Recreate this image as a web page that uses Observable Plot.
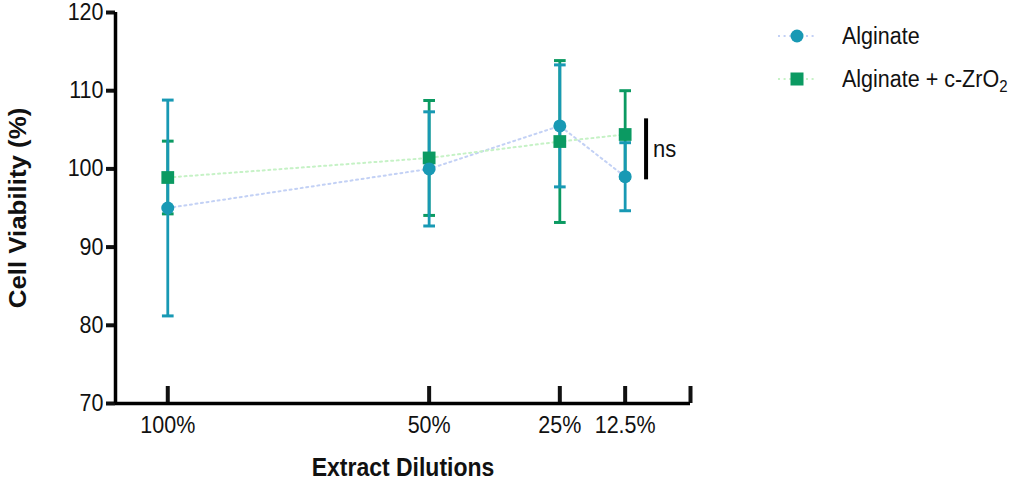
<!DOCTYPE html>
<html>
<head>
<meta charset="utf-8">
<script src="https://cdn.jsdelivr.net/npm/d3@7"></script>
<script src="https://cdn.jsdelivr.net/npm/@observablehq/plot@0.6"></script>
<style>
  html, body { margin: 0; padding: 0; background: #fff; }
  #chart { position: relative; width: 1022px; height: 481px; font-family: "Liberation Sans", Arial, sans-serif; }
  .legend { position: absolute; left: 0; top: 0; }
  .legend-item { position: absolute; display: flex; align-items: center; height: 24px; font-size: 21.5px; color: #111; white-space: nowrap; }
  .legend-item svg { display: block; margin-right: 24px; flex: none; }
  .legend-item span { display: inline-block; transform: scaleY(1.1); }
  .legend-item sub { font-size: 15px; vertical-align: -5px; line-height: 0; }
</style>
</head>
<body>
<div id="chart"></div>
<script>
// Extract dilutions (% of stock extract) and cell viability, mean ± SD
const dilutions = [100, 50, 25, 12.5];
const dilutionTicks = [100, 50, 25, 12.5, 0];
const alginateMean = [95.0, 100.0, 105.5, 99.0];
const alginateSD = [13.8, 7.3, 7.8, 4.35];
const zro2Mean = [98.9, 101.4, 103.5, 104.4];
const zro2SD = [4.65, 7.35, 10.35, 5.6];
const viabilityTicks = [70, 80, 90, 100, 110, 120];
const seriesNames = ["Alginate", "Alginate + c-ZrO\u2082"];
const seriesColors = ["#1899b4", "#0b9a62"];
const lineColors = ["#c3d1f5", "#c6f2c6"];
// Significance annotation near the lowest dilution
const nsBar = [{x: 8.5, y1: 98.6, y2: 106.4, label: "ns"}];

const toRows = (means, sds) => dilutions.map((d, i) => ({
  dilution: d, mean: means[i], lo: means[i] - sds[i], hi: means[i] + sds[i]
}));
const alginate = toRows(alginateMean, alginateSD);
const zro2 = toRows(zro2Mean, zro2SD);

// Horizontal bar used for error-bar caps
const capSymbol = {
  draw(ctx, size) {
    const w = Math.sqrt(size) / 2;
    ctx.moveTo(-w, 0);
    ctx.lineTo(w, 0);
  }
};

const errorBars = (rows, color) => [
  Plot.ruleX(rows, {x: "dilution", y1: "lo", y2: "hi", stroke: color, strokeWidth: 2.8}),
  Plot.dot(rows, {x: "dilution", y: "hi", symbol: capSymbol, r: 6.6, stroke: color, strokeWidth: 3}),
  Plot.dot(rows, {x: "dilution", y: "lo", symbol: capSymbol, r: 6.6, stroke: color, strokeWidth: 3})
];

const plot = Plot.plot({
  width: 1022,
  height: 481,
  marginLeft: 115,
  marginRight: 332,
  marginTop: 12,
  marginBottom: 78,
  style: {fontFamily: "Liberation Sans, Arial, sans-serif", fontSize: "21.5px", color: "#111", background: "#fff"},
  x: {type: "linear", domain: [110, 0]},
  y: {domain: [70, 120]},
  marks: [
    // connecting dotted lines
    Plot.line(alginate, {x: "dilution", y: "mean", stroke: lineColors[0], strokeWidth: 2, strokeDasharray: "2,3.6"}),
    Plot.line(zro2, {x: "dilution", y: "mean", stroke: lineColors[1], strokeWidth: 2, strokeDasharray: "2,3.6"}),
    ...errorBars(zro2, seriesColors[1]),
    ...errorBars(alginate, seriesColors[0]),
    Plot.dot(zro2, {x: "dilution", y: "mean", symbol: "square", r: 7.2, fill: seriesColors[1]}),
    Plot.dot(alginate, {x: "dilution", y: "mean", symbol: "circle", r: 6.5, fill: seriesColors[0]}),
    // significance bar
    Plot.ruleX(nsBar, {x: "x", y1: "y1", y2: "y2", stroke: "#000", strokeWidth: 4}),
    Plot.text(nsBar, {x: "x", y: d => (d.y1 + d.y2) / 2, text: "label", textAnchor: "start", dx: 7, fontSize: 22, fill: "#111"}),
    // axes
    Plot.axisY({ticks: viabilityTicks, tickSize: 9, tickPadding: 3, strokeWidth: 4, label: null}),
    Plot.axisX({ticks: dilutionTicks, tickSize: 0, tickPadding: 13, label: null,
      tickFormat: d => d === 0 ? "" : `${d}%`}),
    Plot.axisX({ticks: dilutionTicks, tickSize: -17, strokeWidth: 4, label: null, tickFormat: () => ""}),
    Plot.ruleY([70], {stroke: "#000", strokeWidth: 3.5}),
    Plot.ruleX([110], {stroke: "#000", strokeWidth: 3.5}),
    // axis titles
    Plot.text(["Cell Viability (%)"], {frameAnchor: "left", rotate: -90, textAnchor: "middle", dx: -97, fontSize: 23.5, fontWeight: "bold", fill: "#111"}),
    Plot.text(["Extract Dilutions"], {frameAnchor: "bottom", dy: 72, fontSize: 23, fontWeight: "bold", fill: "#111"})
  ]
});

// Slightly taller lettering: stretch every label vertically about its anchor
plot.querySelectorAll("text").forEach(t => {
  const tr = t.getAttribute("transform");
  if (tr && /^translate\([^)]*\)/.test(tr)) {
    t.setAttribute("transform", tr.replace(/^(translate\([^)]*\))/, "$1 scale(1,1.1)"));
  } else {
    const x = +t.getAttribute("x") || 0, y = +t.getAttribute("y") || 0;
    t.removeAttribute("x"); t.removeAttribute("y");
    t.setAttribute("transform", `translate(${x},${y}) scale(1,1.1)${tr ? " " + tr : ""}`);
  }
});

const chart = document.getElementById("chart");
chart.appendChild(plot);

// Legend
const legend = document.createElement("div");
legend.className = "legend";
const legendTops = [24, 67];
seriesNames.forEach((name, i) => {
  const item = document.createElement("div");
  item.className = "legend-item";
  item.style.left = "776px";
  item.style.top = legendTops[i] + "px";
  const marker = i === 0
    ? `<circle cx="21" cy="12" r="6.5" fill="${seriesColors[0]}"/>`
    : `<rect x="14.5" y="5.5" width="13" height="13" fill="${seriesColors[1]}"/>`;
  const label = i === 0 ? "Alginate" : "Alginate + c-ZrO<sub>2</sub>";
  item.innerHTML = `<svg width="42" height="24"><line x1="2" x2="40" y1="12" y2="12" stroke="${lineColors[i]}" stroke-width="2" stroke-dasharray="2,3.6"/>${marker}</svg><span>${label}</span>`;
  legend.appendChild(item);
});
chart.appendChild(legend);
</script>
</body>
</html>
